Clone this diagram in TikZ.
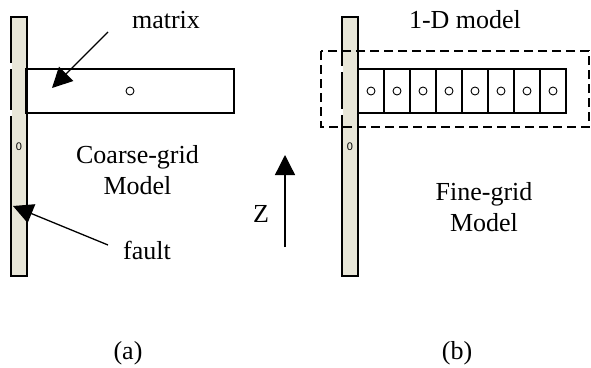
\documentclass[tikz,border=0pt]{standalone}
\usepackage{fontspec}
\setmainfont{Liberation Serif}
\setsansfont{Liberation Sans}
\usetikzlibrary{arrows.meta}

\definecolor{faultfill}{RGB}{232,230,216}
\tikzset{
  faultbar/.style={draw,line width=1.4pt,fill=faultfill,minimum width=16pt,minimum height=259pt,inner sep=0pt,font=\sffamily\fontsize{11}{11}\selectfont},
  cellbox/.style={draw,line width=1.3pt,minimum height=44pt,inner sep=0pt},
  hole/.style={draw,circle,line width=0.9pt,minimum size=8pt,inner sep=0pt},
  lbl/.style={font=\fontsize{26}{31}\selectfont,inner sep=0pt,align=center},
  bigarrow/.style={line width=1.3pt,-{Triangle[length=20pt,width=20pt]}},
}

\begin{document}
\begin{tikzpicture}[x=1pt,y=-1pt]
  \useasboundingbox (0,0) rectangle (591,367);

  % (a) coarse grid
  \node[faultbar] (faulta) at (19,146.5) {0};
  \node[cellbox,minimum width=208pt] (matrixbox) at (130,91) {};
  \node[hole] (matrixhole) at (matrixbox.center) {};
  \draw[white,line width=1.6pt] (11,63) -- (11,69) (11,110) -- (11,116);
  \node[lbl,anchor=base] (matrixlbl) at (166,28) {matrix};
  \node[lbl,anchor=base] (faultlbl) at (147,259) {fault};
  \node[lbl] (coarse) at (137.5,170) {Coarse-grid\\Model};
  \coordinate (mtail) at (108,32);
  \coordinate (mtip) at (52,88);
  \coordinate (ftail) at (108,245);
  \coordinate (ftip) at (13,206);
  \draw[bigarrow] (mtail) -- (mtip);
  \draw[bigarrow] (ftail) -- (ftip);

  % z direction
  \node[lbl,anchor=base] (zlbl) at (261,222) {Z};
  \coordinate (zlow) at (285,247);
  \coordinate (zhigh) at (285,155);
  \draw[bigarrow] (zlow) -- (zhigh);

  % (b) fine grid
  \node[faultbar] (faultb) at (350,146.5) {0};
  \foreach \i in {1,...,8} {
    \node[cellbox,minimum width=26pt] (cell\i) at ({345+26*\i},91) {};
    \node[hole] (hole\i) at (cell\i.center) {};
  }
  \draw[white,line width=1.6pt] (342,66) -- (342,72) (342,109) -- (342,115);
  \draw[line width=1.4pt,dash pattern=on 9pt off 5pt] (321,51) rectangle (589,127);
  \node[lbl,anchor=base] (onedlbl) at (465,28) {1-D model};
  \node[lbl] (fine) at (484,207) {Fine-grid\\Model};

  % captions
  \node[lbl,anchor=base] (capa) at (128,359) {(a)};
  \node[lbl,anchor=base] (capb) at (457,359) {(b)};
\end{tikzpicture}
\end{document}
